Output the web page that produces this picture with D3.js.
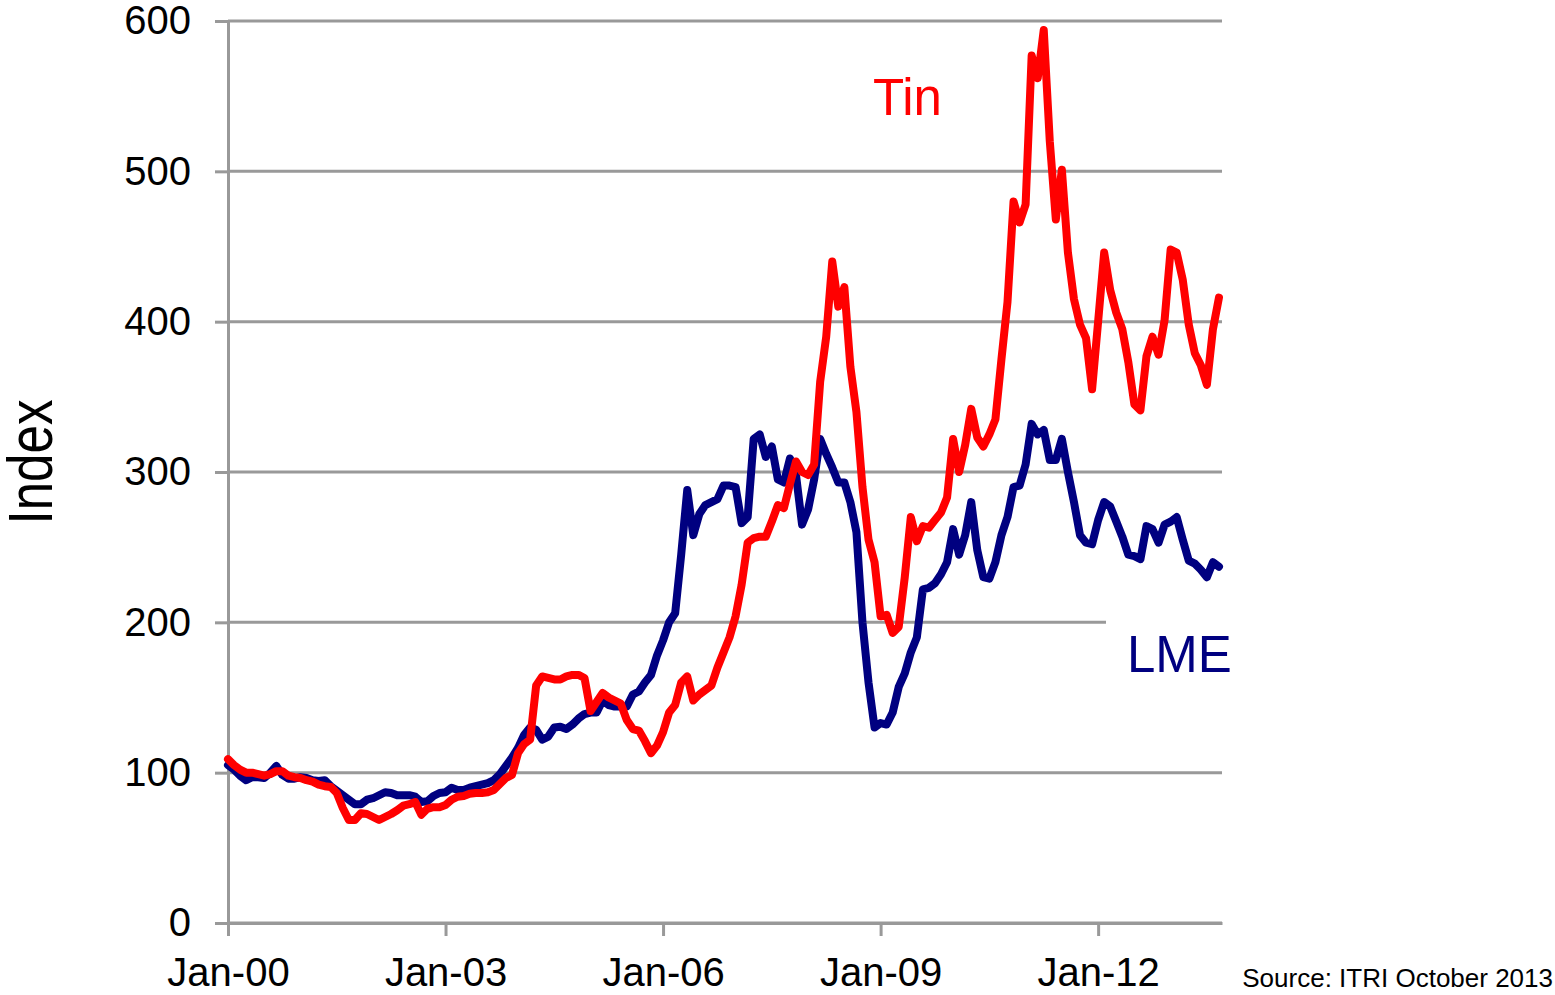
<!DOCTYPE html>
<html>
<head>
<meta charset="utf-8">
<script src="https://cdn.jsdelivr.net/npm/d3@7"></script>
<style>
  body { margin: 0; background: #fff; }
  text { font-family: "Liberation Sans", Arial, sans-serif; }
</style>
</head>
<body>
<svg id="chart"></svg>
<script>
// monthly index values, Jan-00 .. Sep-13 (Jan 2000 = 100)
const tinIndex = [
  109, 105, 102, 100, 100, 99, 98, 99, 101, 101, 98, 97,
  96.5, 95, 94, 92, 91, 90.5, 86.5, 76.5, 68.5, 68.5, 73, 72.5,
  70.5, 68.5, 70.5, 72.5, 75, 78, 79, 80.5, 72, 76, 77, 77,
  78.5, 82, 84, 84.5, 86, 86.5, 86.5, 87, 88.5, 92.5, 96.5, 98.5,
  113, 119, 122, 158, 164, 163, 162, 162, 164, 165, 165, 163,
  141, 147, 153, 150, 148, 146, 135, 129, 128, 121, 113, 118,
  127, 140, 145, 160, 164, 148, 152, 155, 158, 170, 180, 190,
  204, 225, 253, 256, 257, 257, 267, 278, 276, 292, 307, 300,
  298, 305, 360, 390, 440, 410, 423, 370, 340, 290, 255, 240,
  204, 205, 193, 197, 230, 270, 254, 264, 263, 268, 273, 283,
  322, 300, 318, 342, 323, 317, 325, 335, 375, 413, 480, 466,
  478, 577, 562, 594, 520, 468, 501, 446, 415, 398, 389, 355,
  400, 446, 421, 406, 395, 373, 345, 341, 377, 390, 378, 401,
  448, 446, 428, 398, 379, 371, 358, 395, 416
];
const lmeIndex = [
  105, 102, 98, 95, 97, 97, 96.5, 100, 104.5, 98.5, 96, 96,
  97, 96.5, 95, 94.5, 95, 91, 88, 85, 82, 79, 79, 82,
  83, 85, 87, 86.5, 85, 85, 85, 84, 80.5, 81, 84.5, 86.5,
  87, 90, 88.5, 88.5, 90, 91, 92, 93, 95, 99, 104.5, 110,
  116.5, 125, 130, 128.5, 122, 124, 130, 130.5, 129, 132, 136, 139,
  140, 140, 148, 145, 144, 144, 144, 152, 154, 160, 165, 178,
  188, 200, 206, 245, 288, 258, 272, 278, 280, 282, 291, 291,
  290, 266, 270, 322, 325, 310, 317, 295, 293, 309, 298, 265,
  275, 295, 322, 312, 303, 293, 293, 280, 260, 200, 160, 130,
  133, 132, 140, 157, 166, 180, 190, 222, 223, 226, 232, 240,
  262, 245, 258, 280, 248, 230, 229, 240, 258, 270, 290, 291,
  305, 332, 325, 328, 308, 308, 322, 300, 280, 258, 253, 252,
  268, 280, 277, 267, 257, 245, 244, 242, 264, 262, 253, 265,
  267, 270, 255, 241, 239, 235, 230, 240, 237
];
const xTickMonths = [0, 36, 72, 108, 144];
const xTickLabels = ['Jan-00', 'Jan-03', 'Jan-06', 'Jan-09', 'Jan-12'];
const yTicks = [0, 100, 200, 300, 400, 500, 600];

const w = 1555;
const h = 995;
const grey = '#999999';

const svg = d3.select('#chart')
  .attr('width', w)
  .attr('height', h)
  .style('overflow', 'visible');

const x = d3.scaleLinear()
  .domain([0, 164.5])
  .range([228, 1222]);
const y = d3.scaleLinear()
  .domain([0, 600])
  .range([923, 21]);

// horizontal gridlines
svg.append('g')
  .selectAll('line')
  .data(yTicks)
  .join('line')
    .attr('x1', x(0))
    .attr('x2', x(164.5))
    .attr('y1', d => y(d))
    .attr('y2', d => y(d))
    .attr('stroke', grey)
    .attr('stroke-width', 3);

// axes
const yAxis = d3.axisLeft(y)
  .tickValues(yTicks)
  .tickSizeInner(13)
  .tickSizeOuter(0)
  .tickPadding(24);
const xAxis = d3.axisBottom(x)
  .tickValues(xTickMonths)
  .tickFormat((d, i) => xTickLabels[i])
  .tickSizeInner(13)
  .tickSizeOuter(0)
  .tickPadding(22);

const gy = svg.append('g')
  .attr('transform', `translate(${x(0)},0)`)
  .call(yAxis);
const gx = svg.append('g')
  .attr('transform', `translate(0,${y(0)})`)
  .call(xAxis);

[gx, gy].forEach(g => {
  g.select('.domain').attr('stroke', grey).attr('stroke-width', 3);
  g.selectAll('.tick line').attr('stroke', grey).attr('stroke-width', 3);
  g.selectAll('.tick text')
    .attr('fill', '#000')
    .style('font-size', '40px')
    .style('font-family', '"Liberation Sans", Arial, sans-serif');
});

// white box behind the LME label (cuts the 200 gridline)
svg.append('rect')
  .attr('x', 1106)
  .attr('y', 600)
  .attr('width', 140)
  .attr('height', 90)
  .attr('fill', '#fff');

// series lines
const line = d3.line()
  .x((d, i) => x(i))
  .y(d => y(d));

svg.selectAll('.series')
  .data([
    { values: lmeIndex, color: '#000080' },
    { values: tinIndex, color: '#ff0000' }
  ])
  .join('path')
    .attr('class', 'series')
    .attr('d', d => line(d.values))
    .attr('fill', 'none')
    .attr('stroke', d => d.color)
    .attr('stroke-width', 8)
    .attr('stroke-linejoin', 'round')
    .attr('stroke-linecap', 'round');

// labels
svg.append('text')
  .attr('x', 873)
  .attr('y', 115)
  .attr('fill', '#ff0000')
  .style('font-size', '51px')
  .text('Tin');

svg.append('text')
  .attr('x', 1127)
  .attr('y', 672)
  .attr('fill', '#000080')
  .style('font-size', '51px')
  .text('LME');

svg.append('text')
  .attr('transform', 'translate(52,462) rotate(-90)')
  .attr('text-anchor', 'middle')
  .attr('textLength', 125)
  .attr('lengthAdjust', 'spacingAndGlyphs')
  .attr('fill', '#000')
  .style('font-size', '63px')
  .text('Index');

svg.append('text')
  .attr('x', 1553)
  .attr('y', 987)
  .attr('text-anchor', 'end')
  .attr('fill', '#000')
  .style('font-size', '26px')
  .text('Source: ITRI October 2013');
</script>
</body>
</html>
